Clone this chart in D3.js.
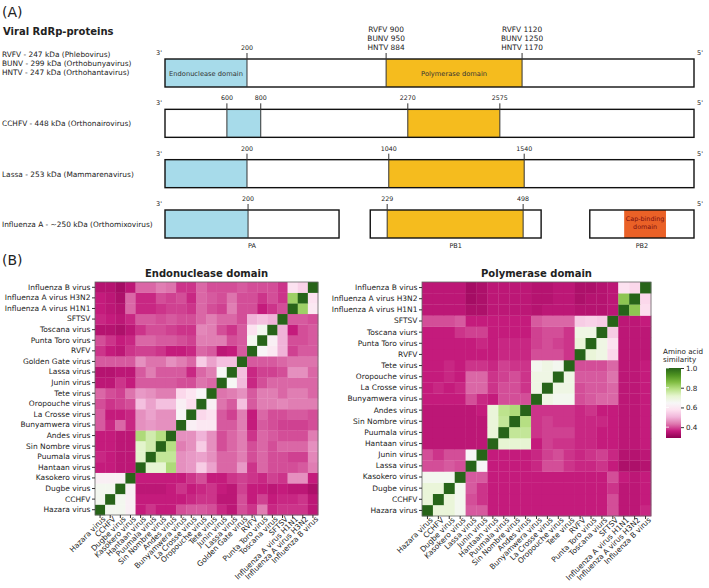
<!DOCTYPE html>
<html><head><meta charset="utf-8">
<script src="https://cdn.jsdelivr.net/npm/d3@7"></script>
<style>
body{margin:0;background:#fff}
text{font-family:"DejaVu Sans",Verdana,sans-serif;fill:#222}
</style></head>
<body><svg id="c" width="709" height="588"></svg>
<script>
// ---------------- Panel A data ----------------
const proteinLabels = [
  ["RVFV - 247 kDa (Phlebovirus)", "BUNV - 299 kDa (Orthobunyavirus)", "HNTV - 247 kDa (Orthohantavirus)"],
  ["CCHFV - 448 kDa (Orthonairovirus)"],
  ["Lassa - 253 kDa (Mammarenavirus)"],
  ["Influenza A - ~250 kDa (Orthomixovirus)"]
];
// residue labels at each domain boundary (per protein row)
const boundaryLabels = [
  [["200"], ["RVFV 900", "BUNV 950", "HNTV 884"], ["RVFV 1120", "BUNV 1250", "HNTV 1170"]],
  [["600"], ["800"], ["2270"], ["2575"]],
  [["200"], ["1040"], ["1540"]],
  [["200"], ["229"], ["498"]]
];
const subunitNames = ["PA", "PB1", "PB2"];
const domainNames = ["Endonuclease domain", "Polymerase domain", "Cap-binding domain"];

// schematic (not to scale) layout of the tracks, in % of track length
const trackLayout = [
  [[0, 100]], [[0, 100]], [[0, 100]],
  [[0, 32.9], [38.8, 71.1], [80.3, 100]]
];
const boundaryLayout = [
  [15.5, 41.8, 67.5], [11.7, 18.1, 45.9, 63.3], [15.5, 42.3, 67.9], [15.7, 42.0, 67.7]
];
const domainLayout = [
  [["endo", 0, 15.5], ["pol", 41.8, 67.5]],
  [["endo", 11.7, 18.1], ["pol", 45.9, 63.3]],
  [["endo", 0, 15.5], ["pol", 42.3, 67.9]],
  [["endo", 0, 15.7], ["pol", 42.0, 67.7], ["cap", 86.8, 94.7]]
];

// ---------------- Panel B data ----------------
const endoSpecies = ["Hazara virus","CCHFV","Dugbe virus","Kasokero virus","Hantaan virus","Puumala virus","Sin Nombre virus","Andes virus","Bunyamwera virus","La Crosse virus","Oropouche virus","Tete virus","Junin virus","Lassa virus","Golden Gate virus","RVFV","Punta Toro virus","Toscana virus","SFTSV","Influenza A virus H1N1","Influenza A virus H3N2","Influenza B virus"];
// rows follow endoSpecies order, columns follow endoSpecies order
const endoValues = [
 [1.00,0.66,0.66,0.62,0.36,0.38,0.36,0.36,0.40,0.41,0.41,0.40,0.37,0.35,0.40,0.38,0.44,0.37,0.38,0.38,0.38,0.35],
 [0.66,1.00,0.66,0.62,0.36,0.36,0.36,0.36,0.36,0.37,0.38,0.38,0.35,0.35,0.40,0.36,0.39,0.36,0.37,0.37,0.38,0.35],
 [0.66,0.66,1.00,0.62,0.35,0.35,0.35,0.36,0.38,0.36,0.37,0.38,0.36,0.35,0.39,0.36,0.36,0.35,0.36,0.35,0.35,0.33],
 [0.62,0.62,0.62,1.00,0.36,0.36,0.36,0.36,0.36,0.38,0.40,0.36,0.36,0.38,0.39,0.38,0.37,0.39,0.38,0.46,0.46,0.36],
 [0.36,0.36,0.35,0.35,1.00,0.71,0.71,0.80,0.46,0.47,0.54,0.48,0.42,0.42,0.47,0.38,0.42,0.40,0.40,0.40,0.41,0.44],
 [0.37,0.36,0.35,0.35,0.72,1.00,0.77,0.77,0.46,0.47,0.48,0.46,0.42,0.42,0.44,0.40,0.42,0.40,0.40,0.39,0.39,0.45],
 [0.36,0.36,0.35,0.35,0.72,0.75,1.00,0.79,0.44,0.46,0.54,0.46,0.40,0.42,0.44,0.40,0.42,0.40,0.42,0.42,0.42,0.46],
 [0.36,0.36,0.35,0.35,0.80,0.75,0.79,1.00,0.46,0.46,0.50,0.46,0.40,0.42,0.44,0.38,0.42,0.41,0.40,0.40,0.40,0.44],
 [0.41,0.37,0.42,0.37,0.46,0.47,0.46,0.46,1.00,0.62,0.60,0.60,0.41,0.41,0.44,0.36,0.41,0.40,0.39,0.39,0.39,0.40],
 [0.41,0.36,0.36,0.37,0.46,0.48,0.46,0.46,0.64,1.00,0.56,0.58,0.41,0.39,0.44,0.36,0.42,0.40,0.40,0.41,0.41,0.40],
 [0.40,0.38,0.39,0.40,0.52,0.48,0.52,0.52,0.62,0.57,1.00,0.62,0.43,0.41,0.52,0.41,0.44,0.44,0.45,0.44,0.44,0.44],
 [0.42,0.40,0.39,0.43,0.47,0.46,0.44,0.44,0.56,0.59,0.64,1.00,0.43,0.44,0.46,0.41,0.44,0.44,0.42,0.44,0.44,0.42],
 [0.35,0.35,0.38,0.36,0.41,0.41,0.41,0.41,0.40,0.40,0.43,0.42,1.00,0.65,0.51,0.37,0.40,0.42,0.42,0.42,0.42,0.42],
 [0.34,0.34,0.35,0.35,0.41,0.44,0.41,0.41,0.41,0.37,0.42,0.44,0.65,1.00,0.52,0.37,0.39,0.39,0.40,0.46,0.46,0.42],
 [0.41,0.41,0.41,0.41,0.46,0.43,0.43,0.46,0.44,0.42,0.54,0.48,0.52,0.52,1.00,0.41,0.41,0.41,0.42,0.43,0.43,0.43],
 [0.38,0.36,0.35,0.38,0.39,0.39,0.38,0.36,0.36,0.37,0.42,0.41,0.35,0.36,0.41,1.00,0.64,0.60,0.50,0.39,0.41,0.41],
 [0.40,0.38,0.36,0.37,0.42,0.42,0.41,0.41,0.40,0.39,0.44,0.44,0.44,0.40,0.41,0.66,1.00,0.62,0.50,0.40,0.40,0.41],
 [0.34,0.34,0.33,0.35,0.38,0.40,0.40,0.39,0.38,0.38,0.45,0.44,0.40,0.38,0.41,0.58,0.66,1.00,0.50,0.36,0.40,0.41],
 [0.37,0.36,0.35,0.37,0.41,0.41,0.40,0.41,0.40,0.40,0.42,0.44,0.42,0.42,0.40,0.50,0.52,0.50,1.00,0.41,0.41,0.40],
 [0.36,0.35,0.34,0.42,0.37,0.37,0.38,0.39,0.39,0.38,0.42,0.40,0.39,0.44,0.40,0.40,0.36,0.38,0.40,1.00,0.82,0.60],
 [0.36,0.35,0.33,0.42,0.37,0.37,0.40,0.39,0.40,0.37,0.42,0.41,0.40,0.43,0.40,0.40,0.38,0.40,0.38,0.82,1.00,0.58],
 [0.34,0.34,0.32,0.35,0.42,0.42,0.44,0.43,0.38,0.38,0.42,0.40,0.40,0.40,0.41,0.40,0.40,0.40,0.38,0.58,0.55,1.00]
];
const polSpecies = ["Hazara virus","CCHFV","Dugbe virus","Kasokero virus","Lassa virus","Junin virus","Hantaan virus","Puumala virus","Sin Nombre virus","Andes virus","Bunyamwera virus","La Crosse virus","Oropouche virus","Tete virus","RVFV","Punta Toro virus","Toscana viurs","SFTSV","Influenza A virus H1N1","Influenza A virus H3N2","Influenza B virus"];
const polValues = [
 [1.00,0.70,0.70,0.66,0.41,0.41,0.36,0.36,0.36,0.36,0.36,0.36,0.36,0.36,0.36,0.36,0.36,0.40,0.35,0.35,0.37],
 [0.70,1.00,0.70,0.66,0.40,0.38,0.36,0.36,0.36,0.36,0.36,0.36,0.36,0.36,0.36,0.36,0.36,0.40,0.35,0.35,0.36],
 [0.70,0.70,1.00,0.66,0.41,0.38,0.36,0.36,0.36,0.36,0.36,0.36,0.36,0.36,0.36,0.36,0.36,0.38,0.35,0.35,0.36],
 [0.66,0.66,0.66,1.00,0.41,0.41,0.36,0.36,0.36,0.36,0.36,0.36,0.36,0.36,0.36,0.36,0.36,0.40,0.36,0.35,0.36],
 [0.40,0.40,0.41,0.40,1.00,0.64,0.36,0.36,0.36,0.36,0.37,0.40,0.40,0.38,0.37,0.37,0.38,0.36,0.33,0.33,0.34],
 [0.40,0.38,0.40,0.40,0.64,1.00,0.36,0.36,0.36,0.36,0.37,0.39,0.40,0.38,0.37,0.38,0.39,0.37,0.34,0.34,0.35],
 [0.35,0.35,0.35,0.35,0.35,0.35,1.00,0.71,0.71,0.71,0.36,0.39,0.38,0.38,0.37,0.37,0.36,0.36,0.35,0.35,0.36],
 [0.35,0.35,0.35,0.35,0.35,0.35,0.70,1.00,0.77,0.77,0.38,0.39,0.39,0.39,0.37,0.37,0.36,0.36,0.35,0.35,0.36],
 [0.35,0.35,0.35,0.35,0.35,0.35,0.70,0.77,1.00,0.79,0.38,0.39,0.38,0.38,0.37,0.37,0.37,0.36,0.35,0.35,0.36],
 [0.35,0.35,0.35,0.35,0.35,0.36,0.70,0.78,0.80,1.00,0.38,0.38,0.38,0.38,0.37,0.38,0.36,0.36,0.35,0.35,0.36],
 [0.36,0.36,0.36,0.36,0.40,0.37,0.36,0.40,0.40,0.40,1.00,0.68,0.66,0.66,0.40,0.41,0.42,0.42,0.35,0.35,0.36],
 [0.36,0.37,0.36,0.37,0.42,0.42,0.38,0.40,0.40,0.38,0.68,1.00,0.68,0.68,0.40,0.41,0.41,0.42,0.35,0.35,0.36],
 [0.36,0.36,0.37,0.36,0.42,0.42,0.38,0.39,0.40,0.38,0.68,0.68,1.00,0.68,0.41,0.41,0.41,0.43,0.35,0.35,0.36],
 [0.36,0.36,0.37,0.36,0.38,0.38,0.37,0.39,0.38,0.38,0.66,0.68,0.66,1.00,0.40,0.40,0.40,0.42,0.35,0.35,0.36],
 [0.36,0.36,0.36,0.36,0.36,0.36,0.36,0.37,0.37,0.37,0.40,0.40,0.40,0.38,1.00,0.70,0.68,0.56,0.35,0.35,0.35],
 [0.36,0.36,0.36,0.36,0.36,0.37,0.36,0.37,0.37,0.37,0.39,0.40,0.39,0.38,0.70,1.00,0.68,0.58,0.35,0.35,0.35],
 [0.36,0.36,0.36,0.38,0.39,0.39,0.36,0.36,0.36,0.36,0.39,0.40,0.40,0.38,0.68,0.68,1.00,0.54,0.35,0.35,0.35],
 [0.40,0.40,0.40,0.41,0.36,0.36,0.36,0.36,0.36,0.36,0.41,0.42,0.42,0.42,0.54,0.55,0.54,1.00,0.35,0.35,0.36],
 [0.35,0.35,0.35,0.35,0.33,0.33,0.35,0.35,0.35,0.35,0.34,0.35,0.35,0.35,0.34,0.34,0.34,0.35,1.00,0.84,0.57],
 [0.35,0.35,0.35,0.35,0.32,0.33,0.35,0.35,0.35,0.35,0.34,0.34,0.35,0.35,0.33,0.34,0.34,0.35,0.84,1.00,0.56],
 [0.35,0.35,0.35,0.35,0.32,0.33,0.35,0.35,0.35,0.35,0.34,0.34,0.35,0.35,0.33,0.33,0.34,0.35,0.58,0.56,1.00]
];
const colorTicks = [0.4, 0.6, 0.8, 1.0];
const colorDomain = [0.29, 1.0];

// ---------------- Drawing ----------------
const svg = d3.select("#c");
const piyg = ["#8e0152","#c51b7d","#de77ae","#f1b6da","#fde0ef","#f7f7f7","#e6f5d0","#b8e186","#7fbc41","#4d9221","#276419"];
const color = d3.scaleSequential(d3.piecewise(d3.interpolateRgb, piyg)).domain(colorDomain);

// Panel A
svg.append("text").attr("x", 2).attr("y", 17).style("font-size", "14px").text("(A)");
svg.append("text").attr("x", 3).attr("y", 35).style("font-size", "10px").style("font-weight", "bold").text("Viral RdRp-proteins");

const xs = d3.scaleLinear().domain([0, 100]).range([165, 694]);
const rowY = d3.scaleLinear().domain([0, 3]).range([59, 210]);
const boxH = 28;
const fillOf = {endo: "#a7dbea", pol: "#f5bc1e", cap: "#ea6127"};

proteinLabels.forEach((lines, r) => {
  const top = rowY(r), mid = top + boxH / 2;
  const g = svg.append("g");
  // left labels
  const n = lines.length;
  lines.forEach((l, i) => {
    g.append("text").attr("x", 2).attr("y", n === 1 ? mid + 3 : mid - 16 + i * 9)
      .style("font-size", "7.4px").text(l);
  });
  // tracks (white boxes)
  trackLayout[r].forEach(t => {
    g.append("rect").attr("x", xs(t[0])).attr("y", top).attr("width", xs(t[1]) - xs(t[0])).attr("height", boxH)
      .attr("fill", "#fff").attr("stroke", "none");
  });
  // domains
  domainLayout[r].forEach(d => {
    g.append("rect").attr("x", xs(d[1])).attr("y", top).attr("width", xs(d[2]) - xs(d[1])).attr("height", boxH)
      .attr("fill", fillOf[d[0]]);
  });
  // track outlines
  trackLayout[r].forEach(t => {
    g.append("rect").attr("x", xs(t[0])).attr("y", top).attr("width", xs(t[1]) - xs(t[0])).attr("height", boxH)
      .attr("fill", "none").attr("stroke", "#111").attr("stroke-width", 1.4);
  });
  // boundaries
  boundaryLayout[r].forEach((p, i) => {
    const lab = boundaryLabels[r][i];
    const multi = lab.length > 1;
    g.append("line").attr("x1", xs(p)).attr("x2", xs(p)).attr("y1", top - 6).attr("y2", top + boxH)
      .attr("stroke", "#333").attr("stroke-width", 1);
    lab.forEach((l, k) => {
      g.append("text").attr("x", xs(p)).attr("y", top - 9 - (lab.length - 1 - k) * 9)
        .attr("text-anchor", "middle").style("font-size", multi ? "7.4px" : "6.3px").text(l);
    });
  });
  // 3' and 5'
  g.append("text").attr("x", xs(0) - 6).attr("y", top - 4).attr("text-anchor", "middle").style("font-size", "6.5px").text("3'");
  g.append("text").attr("x", xs(100) + 6).attr("y", top - 4).attr("text-anchor", "middle").style("font-size", "6.5px").text("5'");
});
// domain names inside row 0 and cap-binding in row 3
{
  const top0 = rowY(0);
  const e = domainLayout[0][0], p = domainLayout[0][1];
  svg.append("text").attr("x", (xs(e[1]) + xs(e[2])) / 2).attr("y", top0 + boxH / 2 + 2.5)
    .attr("text-anchor", "middle").style("font-size", "6.7px").style("fill", "#333").text(domainNames[0]);
  svg.append("text").attr("x", (xs(p[1]) + xs(p[2])) / 2).attr("y", top0 + boxH / 2 + 2.5)
    .attr("text-anchor", "middle").style("font-size", "6.7px").style("fill", "#333").text(domainNames[1]);
  const top3 = rowY(3), c = domainLayout[3][2];
  const cx = (xs(c[1]) + xs(c[2])) / 2;
  svg.append("text").attr("x", cx).attr("y", top3 + 11).attr("text-anchor", "middle")
    .style("font-size", "6.4px").style("fill", "#7a1010").text("Cap-binding");
  svg.append("text").attr("x", cx).attr("y", top3 + 19).attr("text-anchor", "middle")
    .style("font-size", "6.4px").style("fill", "#7a1010").text("domain");
  trackLayout[3].forEach((t, i) => {
    svg.append("text").attr("x", (xs(t[0]) + xs(t[1])) / 2).attr("y", top3 + boxH + 10)
      .attr("text-anchor", "middle").style("font-size", "6.5px").text(subunitNames[i]);
  });
}

// Panel B
svg.append("text").attr("x", 2).attr("y", 265).style("font-size", "14px").text("(B)");

function heatmap(species, values, x0, x1, y0, y1, title) {
  const x = d3.scaleBand().domain(species).range([x0, x1]);
  const y = d3.scaleBand().domain(species.slice().reverse()).range([y0, y1]);
  const g = svg.append("g");
  const cells = [];
  values.forEach((row, i) => row.forEach((v, j) => cells.push({r: species[i], c: species[j], v})));
  g.selectAll("rect.cell").data(cells).join("rect").attr("class", "cell")
    .attr("x", d => x(d.c)).attr("y", d => y(d.r))
    .attr("width", x.bandwidth() + 0.3).attr("height", y.bandwidth() + 0.3)
    .attr("fill", d => color(d.v));
  g.append("rect").attr("x", x0).attr("y", y0).attr("width", x1 - x0).attr("height", y1 - y0)
    .attr("fill", "none").attr("stroke", "#666").attr("stroke-width", 0.8);
  const ya = g.append("g").attr("transform", `translate(${x0},0)`).call(d3.axisLeft(y).tickSize(3).tickPadding(1.5));
  ya.select(".domain").remove();
  ya.selectAll("text").style("font-size", "7.5px").style("font-family", "DejaVu Sans, Verdana, sans-serif").attr("fill", "#222");
  ya.selectAll("line").attr("stroke", "#333");
  const xa = g.append("g").attr("transform", `translate(0,${y1})`).call(d3.axisBottom(x).tickSize(3));
  xa.select(".domain").remove();
  xa.selectAll("line").attr("stroke", "#333");
  xa.selectAll("text").style("font-size", "7.5px").style("font-family", "DejaVu Sans, Verdana, sans-serif").attr("fill", "#222")
    .attr("text-anchor", "end").attr("x", 1).attr("y", 4).attr("dy", "0.45em").attr("transform", "rotate(-45)");
  svg.append("text").attr("x", (x0 + x1) / 2).attr("y", y0 - 5).attr("text-anchor", "middle")
    .style("font-size", "10px").style("font-weight", "bold").text(title);
}
heatmap(endoSpecies, endoValues, 95, 318, 282, 515, "Endonuclease domain");
heatmap(polSpecies, polValues, 422, 651, 282, 516, "Polymerase domain");

// colour bar
{
  const cbX = 666, cbW = 15;
  const cy = d3.scaleLinear().domain(colorDomain).range([438, 368]);
  const defs = svg.append("defs");
  const grad = defs.append("linearGradient").attr("id", "cbg").attr("x1", 0).attr("x2", 0).attr("y1", 1).attr("y2", 0);
  d3.range(0, 1.0001, 0.05).forEach(t => {
    grad.append("stop").attr("offset", t).attr("stop-color", color(colorDomain[0] + t * (colorDomain[1] - colorDomain[0])));
  });
  svg.append("rect").attr("x", cbX).attr("y", cy(colorDomain[1])).attr("width", cbW)
    .attr("height", cy(colorDomain[0]) - cy(colorDomain[1])).attr("fill", "url(#cbg)");
  const ax = svg.append("g").attr("transform", `translate(${cbX + cbW},0)`)
    .call(d3.axisRight(cy).tickValues(colorTicks).tickFormat(d3.format(".1f")).tickSize(3).tickPadding(2));
  ax.select(".domain").remove();
  ax.selectAll("line").attr("stroke", "#333");
  ax.selectAll("text").style("font-size", "7.2px").style("font-family", "DejaVu Sans, Verdana, sans-serif").attr("fill", "#222");
  // inner white tick marks
  svg.append("g").selectAll("line").data(colorTicks).join("line")
    .attr("x1", cbX).attr("x2", cbX + 3).attr("y1", d => cy(d)).attr("y2", d => cy(d))
    .attr("stroke", "#fff").attr("stroke-width", 0.8);
  svg.append("text").attr("x", 663).attr("y", 354).style("font-size", "7.2px").text("Amino acid");
  svg.append("text").attr("x", 663).attr("y", 362).style("font-size", "7.2px").text("similarity");
}
</script></body></html>
